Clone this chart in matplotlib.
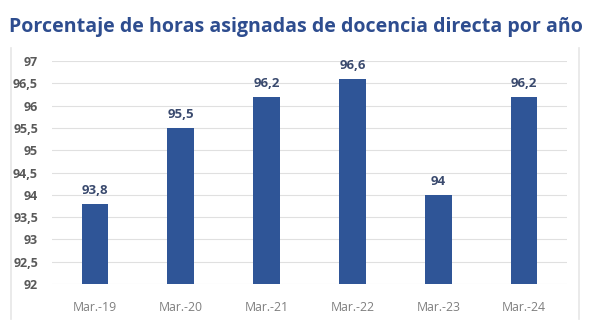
import matplotlib
matplotlib.use("Agg")
import matplotlib.pyplot as plt
from matplotlib.lines import Line2D

categorias = ["Mar.-19", "Mar.-20", "Mar.-21", "Mar.-22", "Mar.-23", "Mar.-24"]
porcentajes = [93.8, 95.5, 96.2, 96.6, 94.0, 96.2]
yticks = [92, 92.5, 93, 93.5, 94, 94.5, 95, 95.5, 96, 96.5, 97]

plt.rcParams["font.family"] = ["Open Sans", "DejaVu Sans"]

BAR = "#2f5597"
TITULO = "#2e4d8f"


def fmt(v):
    s = f"{v:g}"
    return s.replace(".", ",")


fig = plt.figure(figsize=(5.91, 3.36), dpi=100)
fig.patch.set_facecolor("white")

# bordes laterales del recuadro del gráfico
for xp in (11 / 591, 579 / 591):
    fig.add_artist(Line2D([xp, xp], [1 - 48 / 336, 1 - 319 / 336],
                          transform=fig.transFigure, color="#e6e6e6", linewidth=1.2))

ax = fig.add_axes([52 / 591, 1 - 284 / 336, 515 / 591, 223 / 336])
x = range(len(categorias))
bars = ax.bar(x, [p - 92 for p in porcentajes], bottom=92, width=0.31,
              color=BAR, zorder=3)

for b, v in zip(bars, porcentajes):
    ax.text(b.get_x() + b.get_width() / 2, v + 0.15, fmt(v),
            ha="center", va="bottom", fontsize=9.5, fontweight="bold",
            color="#3a4a6e")

ax.set_xlim(-0.5, len(categorias) - 0.5)
ax.set_ylim(92, 97)
ax.set_yticks(yticks)
ax.set_yticklabels([fmt(t) for t in yticks], fontsize=9, fontweight="bold",
                   color="#595959")
ax.set_xticks(list(x))
ax.set_xticklabels(categorias, fontsize=8.8, color="#7f7f7f")
ax.tick_params(axis="y", length=0, pad=10)
ax.tick_params(axis="x", length=0, pad=12)
ax.grid(axis="y", color="#e0e0e0", linewidth=0.8, zorder=0)
ax.set_axisbelow(True)
for s in ax.spines.values():
    s.set_visible(False)

fig.text(296 / 591, 1 - 27 / 336, "Porcentaje de horas asignadas de docencia directa por año",
         ha="center", va="center", fontsize=14.1, fontweight="bold", color=TITULO)

fig.savefig("out.png", dpi=100)
